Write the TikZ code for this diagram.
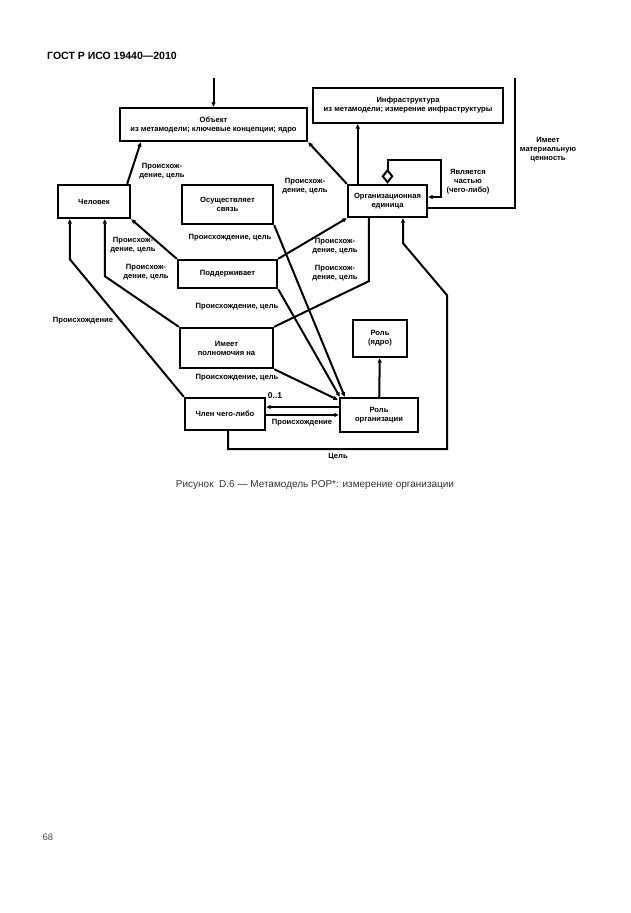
\documentclass[tikz,border=0pt]{standalone}
\usepackage{fontspec}
\setmainfont{Liberation Sans}
\usetikzlibrary{arrows.meta,calc}

\begin{document}
\begin{tikzpicture}[x = 1pt, y = -1pt, >={Triangle[length=4.5pt, width=4pt]}]
        \tikzstyle{box} = [draw, rectangle, line width = 2.4pt, align = center, inner sep = 1pt, font = \bfseries\fontsize{7.6}{9}\selectfont]
        \tikzstyle{lbl} = [align = center, inner sep = 0pt, font = \bfseries\fontsize{7.6}{9}\selectfont]
        \tikzstyle{link} = [line width = 2pt]
        \useasboundingbox (0, 0) rectangle (630, 913);

        \node(Header)[anchor = west, inner sep = 0pt, font = \bfseries\fontsize{10.5}{11}\selectfont] at (47, 56) {ГОСТ Р ИСО 19440—2010};

        \node(Object)[box, minimum width = 187pt, minimum height = 33pt] at (213.5, 124.5) {Объект\\из метамодели; ключевые концепции; ядро};
        \node(Infra)[box, minimum width = 190pt, minimum height = 35pt] at (408, 105.5) {Инфраструктура\\из метамодели; измерение инфраструктуры};
        \node(Org)[box, minimum width = 79pt, minimum height = 32pt] at (387.5, 201) {Организационная\\единица};
        \node(Person)[box, minimum width = 72pt, minimum height = 33pt] at (94, 201.5) {Человек};
        \node(Link)[box, minimum width = 91pt, minimum height = 39pt] at (227.5, 204.5) {Осуществляет\\связь};
        \node(Support)[box, minimum width = 99pt, minimum height = 28pt] at (227.5, 274) {Поддерживает};
        \node(Authority)[box, minimum width = 93pt, minimum height = 40pt] at (226.5, 348) {Имеет\\полномочия на};
        \node(CoreRole)[box, minimum width = 54pt, minimum height = 37pt] at (380, 338.5) {Роль\\(ядро)};
        \node(OrgRole)[box, minimum width = 78pt, minimum height = 34pt] at (379, 415) {Роль\\организации};
        \node(Member)[box, minimum width = 80pt, minimum height = 32pt] at (225, 414) {Член чего-либо};

        \coordinate(ObjIn) at (213.5, 78);
        \coordinate(ValueEnd) at (515, 78);
        \coordinate(OrgUp) at ($(Org.north west)+(11,0)$);
        \coordinate(RoleOut) at ($(OrgRole.west)+(0,-8)$);
        \coordinate(MemberOut) at ($(Member.east)+(0,1)$);

        \draw [link, ->] (ObjIn) -- (Object);
        \draw [link, ->] ($(Person.north east)+(-4,0)$) -- ($(Object.south west)+(22,0)$);
        \draw [link, ->] (Org.north west) -- (Object.south east);
        \draw [link, ->] (OrgUp) -- (OrgUp |- Infra.south);
        \draw [link, {Diamond[open, length=15pt, width=12pt]}-{>}] (Org.north) -- ++(0, -24) -| ($(Org.east)+(13,-4)$) -- ($(Org.east)+(0,-4)$);
        \draw [link] ($(Org.east)+(0,7)$) -| (ValueEnd);

        \draw [link, ->] (Link.south east) -- ($(OrgRole.north west)+(6,0)$);
        \draw [link, ->] (Support.north west) -- (Person.south east);
        \draw [link, ->] (Authority.north west) -- ($(Person.south west)+(48,57)$) -- ($(Person.south west)+(48,0)$);
        \draw [link, ->] (Member.north west) -- ($(Person.south west)+(13,40)$) -- ($(Person.south west)+(13,0)$);
        \draw [link, ->] (Support.north east) -- (Org.south west);
        \draw [link] (Authority.north east) -- ($(Org.south west)+(22,63)$) -- ($(Org.south west)+(22,0)$);
        \draw [link, ->] (Support.south east) -- ($(OrgRole.north west)+(1,0)$);
        \draw [link, ->] (Authority.south east) -- ($(OrgRole.north west)+(-1,3)$);
        \draw [link, ->] (OrgRole) -- (CoreRole);
        \draw [link, ->] (RoleOut) -- (RoleOut -| Member.east);
        \draw [link, ->] (MemberOut) -- (MemberOut -| OrgRole.west);
        \draw [link, ->] ($(Member.south)+(3,0)$) |- ($(Org.south)+(59.5,231)$) -- ($(Org.south)+(59.5,77)$) -- ($(Org.south)+(15.5,25)$) -- ($(Org.south)+(15.5,0)$);

        \node(L1)[lbl] at (162, 171) {Происхож-\\дение, цель};
        \node(L2)[lbl] at (305, 186) {Происхож-\\дение, цель};
        \node(L3)[lbl] at (548, 150) {Имеет\\материальную\\ценность};
        \node(L4)[lbl] at (468, 182) {Является\\частью\\(чего-либо)};
        \node(L5)[lbl] at (230, 238) {Происхождение, цель};
        \node(L6)[lbl] at (133, 245.5) {Происхож-\\дение, цель};
        \node(L7)[lbl] at (146, 272.5) {Происхож-\\дение, цель};
        \node(L8)[lbl] at (335, 246.5) {Происхож-\\дение, цель};
        \node(L9)[lbl] at (335, 273) {Происхож-\\дение, цель};
        \node(L10)[lbl] at (237, 307) {Происхождение, цель};
        \node(L11)[lbl] at (83, 321) {Происхождение};
        \node(L12)[lbl] at (237, 378) {Происхождение, цель};
        \node(L13)[lbl, font = \bfseries\fontsize{8.5}{9}\selectfont] at (275, 396) {0..1};
        \node(L14)[lbl] at (302, 423) {Происхождение};
        \node(L15)[lbl] at (338, 457) {Цель};

        \node(Caption)[text = black!80, font = \fontsize{10}{11}\selectfont] at (315, 485) {Рисунок~~D.6 — Метамодель POP*: измерение организации};
        \node(Page)[text = black!70, font = \fontsize{9.5}{10}\selectfont] at (48, 837) {68};
    \end{tikzpicture}
\end{document}
